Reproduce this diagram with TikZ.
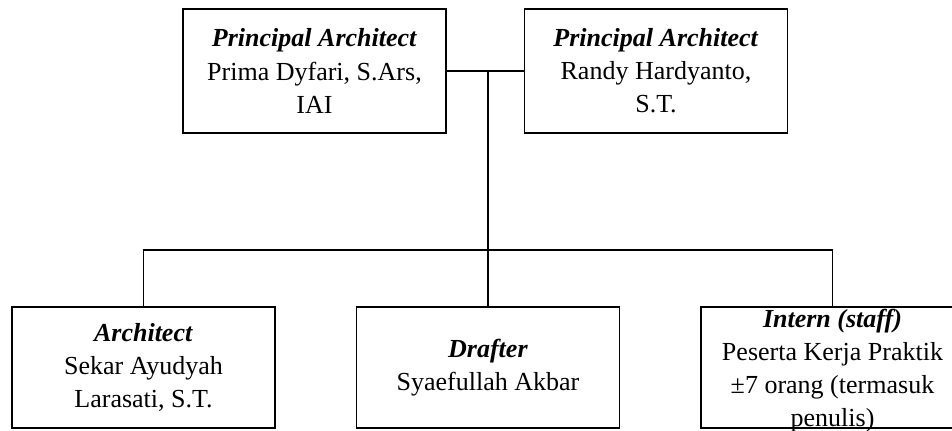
\documentclass[tikz,border=0pt]{standalone}
\usepackage{fontspec}
\setmainfont{Liberation Serif}
\begin{document}
\begin{tikzpicture}[x=0.025cm,y=-0.025cm,
jabatan/.style={rectangle,draw=black,line width=0.9pt,minimum width=6.575cm,minimum height=3.1cm,align=center,font=\fontsize{18.5}{23.5}\selectfont},
staf/.style={jabatan,minimum height=3.03cm},
garis/.style={draw=black,line width=0.9pt}]
\useasboundingbox (0,0) rectangle (952,430);

% Principal Architect
\def\Y{71}
\node[jabatan] (pa1) at (314.5,\Y) {\textbf{\textit{Principal Architect}}\\Prima Dyfari, S.Ars,\\IAI};
\node[jabatan] (pa2) at (656,\Y) {\textbf{\textit{Principal Architect}}\\Randy Hardyanto,\\S.T.};

% Staff
\def\Ys{367.5}
\node[staf] (arch) at (143.5,\Ys) {\textbf{\textit{Architect}}\\Sekar Ayudyah\\Larasati, S.T.};
\node[staf] (drafter) at (488,\Ys) {\textbf{\textit{Drafter}}\\Syaefullah Akbar};
\node[staf,inner sep=0.065cm] (intern) at (832.5,\Ys) {\parbox[c][2.9cm][t]{6.4cm}{\centering\textbf{\textit{Intern (staff)}}\\Peserta Kerja Praktik\\±7 orang (termasuk\\penulis)}};

% Lines
\coordinate (cabang) at (488,\Y);
\coordinate (bus) at (488,250);
\draw[garis] (pa1) -- (pa2);
\draw[garis] (cabang) -- (drafter);
\draw[garis] (arch.north) |- (bus) -| (intern.north);

\end{tikzpicture}
\end{document}
